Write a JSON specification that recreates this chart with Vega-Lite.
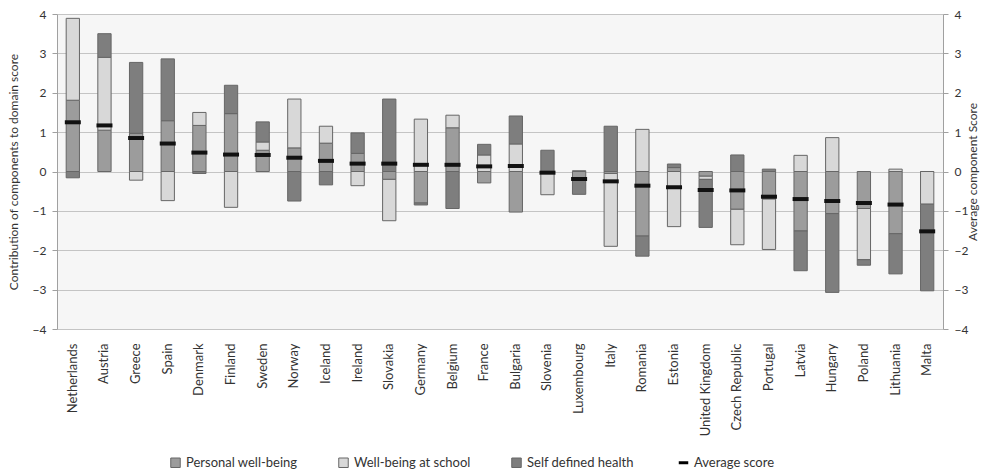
{
  "$schema": "https://vega.github.io/schema/vega-lite/v6.json",
  "autosize": {"type": "none"},
  "width": 886,
  "height": 315,
  "padding": {"left": 57, "top": 14, "right": 52, "bottom": 143},
  "background": "white",
  "config": {
    "font": "Lato",
    "view": {"fill": "#f6f6f6", "stroke": null},
    "axis": {"labelFont": "Lato", "titleFont": "Lato", "labelColor": "#333", "titleColor": "#333", "titleFontWeight": "normal", "domainColor": "#a0a0a0", "tickColor": "#a0a0a0", "gridColor": "#c8c8c8"},
    "legend": {"labelFont": "Lato"}
  },
  "data": {
    "values": [
      {"country": "Netherlands", "pw": 1.81, "ws": 2.08, "sh": -0.16, "avg": 1.25},
      {"country": "Austria", "pw": 1.05, "ws": 1.85, "sh": 0.6, "avg": 1.17},
      {"country": "Greece", "pw": 0.97, "ws": -0.22, "sh": 1.8, "avg": 0.85},
      {"country": "Spain", "pw": 1.29, "ws": -0.74, "sh": 1.57, "avg": 0.71},
      {"country": "Denmark", "pw": 1.17, "ws": 0.33, "sh": -0.05, "avg": 0.48},
      {"country": "Finland", "pw": 1.47, "ws": -0.91, "sh": 0.72, "avg": 0.43},
      {"country": "Sweden", "pw": 0.54, "ws": 0.21, "sh": 0.51, "avg": 0.42},
      {"country": "Norway", "pw": 0.6, "ws": 1.24, "sh": -0.75, "avg": 0.35},
      {"country": "Iceland", "pw": 0.72, "ws": 0.43, "sh": -0.34, "avg": 0.27},
      {"country": "Ireland", "pw": 0.46, "ws": -0.36, "sh": 0.52, "avg": 0.2},
      {"country": "Slovakia", "pw": -0.2, "ws": -1.05, "sh": 1.84, "avg": 0.2},
      {"country": "Germany", "pw": -0.8, "ws": 1.33, "sh": -0.05, "avg": 0.17},
      {"country": "Belgium", "pw": 1.11, "ws": 0.32, "sh": -0.94, "avg": 0.17},
      {"country": "France", "pw": -0.29, "ws": 0.42, "sh": 0.27, "avg": 0.13},
      {"country": "Bulgaria", "pw": -1.03, "ws": 0.7, "sh": 0.71, "avg": 0.14},
      {"country": "Slovenia", "pw": -0.04, "ws": -0.55, "sh": 0.54, "avg": -0.03},
      {"country": "Luxembourg", "pw": -0.2, "ws": 0.02, "sh": -0.38, "avg": -0.19},
      {"country": "Italy", "pw": -0.05, "ws": -1.85, "sh": 1.15, "avg": -0.25},
      {"country": "Romania", "pw": -1.64, "ws": 1.07, "sh": -0.51, "avg": -0.36},
      {"country": "Estonia", "pw": 0.1, "ws": -1.4, "sh": 0.09, "avg": -0.4},
      {"country": "United Kingdom", "pw": -0.12, "ws": -0.08, "sh": -1.22, "avg": -0.47},
      {"country": "Czech Republic", "pw": -0.96, "ws": -0.9, "sh": 0.42, "avg": -0.48},
      {"country": "Portugal", "pw": -0.7, "ws": -1.28, "sh": 0.06, "avg": -0.64},
      {"country": "Latvia", "pw": -1.51, "ws": 0.41, "sh": -1.01, "avg": -0.7},
      {"country": "Hungary", "pw": -1.07, "ws": 0.86, "sh": -2.0, "avg": -0.75},
      {"country": "Poland", "pw": -0.94, "ws": -1.3, "sh": -0.14, "avg": -0.8},
      {"country": "Lithuania", "pw": -1.58, "ws": 0.06, "sh": -1.02, "avg": -0.84},
      {"country": "Malta", "pw": 0, "ws": -0.83, "sh": -2.2, "avg": -1.52}
    ]
  },
  "encoding": {
    "x": {
      "field": "country", "type": "nominal", "sort": null,
      "scale": {"paddingInner": 0.58, "paddingOuter": 0.29},
      "axis": {"title": null, "labelAngle": -90, "labelFontSize": 13, "ticks": false, "domain": false, "labelPadding": 14, "labelColor": "#333"}
    }
  },
  "layer": [
    {
      "transform": [
        {"fold": ["pw", "ws", "sh"], "as": ["key", "value"]},
        {"calculate": "datum.key === 'pw' ? 'Personal well-being' : datum.key === 'ws' ? 'Well-being at school' : 'Self defined health'", "as": "component"},
        {"calculate": "indexof(['pw','ws','sh'], datum.key)", "as": "ord"}
      ],
      "mark": {"type": "bar", "stroke": "#666666", "strokeWidth": 1},
      "encoding": {
        "y": {
          "field": "value", "type": "quantitative", "stack": "zero",
          "scale": {"domain": [-4, 4], "nice": false, "zero": false},
          "axis": {"orient": "left", "title": "Contribution of components to domain score", "titleFontSize": 12, "titlePadding": 12, "labelFontSize": 12, "values": [-4, -3, -2, -1, 0, 1, 2, 3, 4], "tickSize": 5, "labelPadding": 6, "grid": true, "gridColor": "#c4c4c4", "gridWidth": 1.2}
        },
        "order": {"field": "ord", "type": "quantitative"},
        "color": {
          "field": "component", "type": "nominal",
          "scale": {"domain": ["Personal well-being", "Well-being at school", "Self defined health", "Average score"], "range": ["#9c9c9c", "#d8d8d8", "#7e7e7e", "#000000"]},
          "legend": {
            "orient": "none", "legendX": 112, "legendY": 442, "direction": "horizontal", "title": null,
            "labelFontSize": 13, "labelColor": "#333", "columnPadding": 38, "symbolSize": 90, "symbolType": "square", "symbolStrokeColor": "#666", "symbolStrokeWidth": 1, "labelOffset": 4,
            "values": ["Personal well-being", "Well-being at school", "Self defined health", "Average score"],
            "encode": {
              "symbols": {
                "update": {
                  "shape": {"signal": "datum.value === 'Average score' ? 'stroke' : 'square'"},
                  "stroke": {"signal": "datum.value === 'Average score' ? '#000000' : '#666666'"},
                  "strokeWidth": {"signal": "datum.value === 'Average score' ? 3 : 1"}
                }
              }
            }
          }
        }
      }
    },
    {
      "mark": {"type": "tick", "orient": "horizontal", "color": "#111111", "size": 16, "thickness": 4, "opacity": 1},
      "encoding": {
        "y": {
          "field": "avg", "type": "quantitative",
          "scale": {"domain": [-4, 4], "nice": false, "zero": false},
          "axis": {"orient": "right", "title": "Average component Score", "titleAngle": 270, "titleFontSize": 12, "titlePadding": 12, "labelFontSize": 12, "values": [-4, -3, -2, -1, 0, 1, 2, 3, 4], "tickSize": 5, "labelPadding": 6, "grid": false}
        }
      }
    }
  ],
  "resolve": {"axis": {"y": "independent"}}
}
